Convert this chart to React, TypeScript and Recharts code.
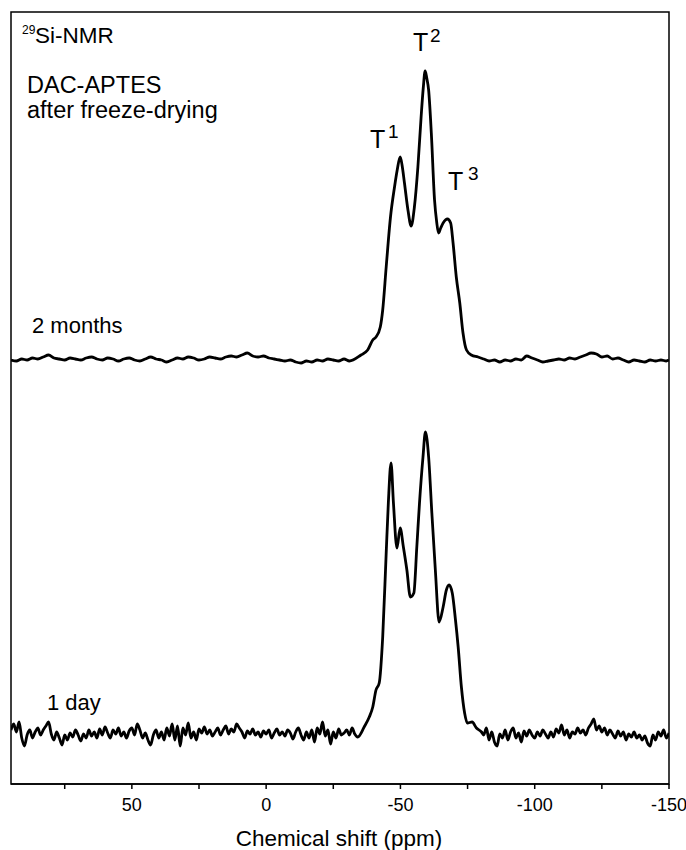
import React from 'react';
import { LineChart, Line, XAxis, YAxis, ReferenceArea } from 'recharts';

const FONT = '"Liberation Sans", Arial, Helvetica, sans-serif';

// x-axis ticks (ppm)
const xDomain = [-150, 95];
const xTicks = [75, 50, 25, 0, -25, -50, -75, -100, -125, -150];
const labeledTicks = [50, 0, -50, -100, -150];
const yDomain = [6, 778];

// ---- 2 months trace ----
const topShift = [
  95, 93, 91, 89, 87, 85, 83, 81, 79, 77, 75, 73, 71, 69, 67, 65, 63, 61, 59, 57,
  55, 53, 51, 49, 47, 45, 43, 41, 39, 37, 35, 33, 31, 29, 27, 25, 23, 21, 19, 17,
  15, 13, 11, 9, 7, 5, 3, 1, -1, -3, -5, -7, -9, -11, -13, -15, -17, -19, -21, -23,
  -25, -27, -29, -31,
  -35.3, -37.8, -39.7, -40.9, -42.5, -43.4, -44.7, -46.3, -47.8, -48.8, -49.9, -50.6,
  -51.5, -52.8, -54.0, -55.2, -56.5, -57.7, -58.5, -59.2, -59.8, -60.5, -61.5, -62.7,
  -63.5, -64.2, -65.0, -65.9, -67.5, -68.7, -69.6, -70.8, -72.1, -73.3, -74.6, -76.4,
  -78.9,
  -81, -83, -85, -87, -89, -91, -93, -95, -97, -99, -101, -103, -105, -107, -109, -111,
  -113, -115, -117, -119, -121, -123, -125, -127, -129, -131, -133, -135, -137, -139,
  -141, -143, -145, -147, -149, -150,
];
const topIntensity = [
  430, 429, 431, 430, 432, 431, 433, 435, 432, 431, 430, 432, 431, 430, 432, 433, 431, 430, 432, 431,
  429, 431, 432, 430, 429, 431, 433, 431, 430, 428, 430, 432, 431, 433, 432, 430, 431, 433, 432, 431,
  433, 434, 433, 435, 437, 434, 433, 434, 432, 431, 430, 429, 430, 428, 427, 429, 428, 430, 429, 431,
  430, 429, 431, 429,
  435, 440, 450, 453, 463, 480, 523, 573, 603, 620, 633, 625,
  607, 580, 564, 583, 623, 673, 702, 719, 712, 700, 657, 590,
  568, 557, 562, 567, 571, 567, 547, 513, 487, 457, 440, 435,
  433,
  431, 429, 430, 428, 430, 429, 431, 430, 434, 432, 430, 428, 429, 430, 431, 430,
  432, 431, 433, 435, 437, 436, 433, 434, 431, 432, 430, 428, 430, 429,
  428, 430, 429, 430, 429, 430,
];

// ---- 1 day trace ----
const bottomShift = [
  95, 94, 93, 92, 91, 90, 89, 88, 87, 86, 85, 84, 83, 82, 81, 80, 79, 78, 77, 76,
  75, 74, 73, 72, 71, 70, 69, 68, 67, 66, 65, 64, 63, 62, 61, 60, 59, 58, 57, 56,
  55, 54, 53, 52, 51, 50, 49, 48, 47, 46, 45, 44, 43, 42, 41, 40, 39, 38, 37, 36,
  35, 34, 33, 32, 31, 30, 29, 28, 27, 26, 25, 24, 23, 22, 21, 20, 19, 18, 17, 16,
  15, 14, 13, 12, 11, 10, 9, 8, 7, 6, 5, 4, 3, 2, 1, 0, -1, -2, -3, -4,
  -5, -6, -7, -8, -9, -10, -11, -12, -13, -14, -15, -16, -17, -18, -19, -20, -21, -22, -23, -24,
  -25, -26, -27, -28, -29, -30, -31, -32, -33,
  -34.1, -36.5, -38.4, -39.7, -40.9, -42.1, -43.4, -44.7, -45.5, -46.5, -47.4, -48.7,
  -49.9, -51.1, -52.4, -53.7, -55.0, -56.1, -57.1, -58.4, -59.3, -60.5, -61.7, -63.0,
  -64.4, -65.9, -67.1, -68.1, -69.3, -70.5, -71.5, -72.7, -73.9, -74.9, -76.7, -78.3,
  -80.2,
  -81, -82, -83, -84, -85, -86, -87, -88, -89, -90, -91, -92, -93, -94, -95, -96, -97, -98, -99, -100,
  -101, -102, -103, -104, -105, -106, -107, -108, -109, -110, -111, -112, -113, -114, -115, -116, -117, -118, -119, -120,
  -121, -122, -123, -124, -125, -126, -127, -128, -129, -130, -131, -132, -133, -134, -135, -136, -137, -138, -139, -140,
  -141, -142, -143, -144, -145, -146, -147, -148, -149, -150,
];
const bottomIntensity = [
  60, 66, 58, 68, 52, 44, 55, 60, 52, 58, 62, 55, 60, 64, 68, 56, 50, 58, 52, 45,
  55, 50, 57, 53, 60, 55, 49, 56, 52, 60, 54, 58, 52, 61, 55, 63, 57, 52, 60, 56,
  62, 54, 58, 52, 59, 62, 55, 66, 60, 52, 57, 50, 45, 55, 60, 52, 58, 50, 62, 54,
  66, 50, 64, 44, 62, 55, 67, 52, 58, 50, 61, 57, 63, 56, 60, 54, 58, 62, 55, 60,
  64, 56, 61, 58, 66, 62, 58, 52, 59, 56, 61, 55, 58, 53, 59, 56, 60, 52, 57, 61,
  55, 58, 54, 60, 57, 51, 58, 62, 55, 50, 58, 52, 60, 48, 62, 56, 68, 54, 60, 46,
  58, 52, 61, 55, 57, 60, 55, 62, 56,
  53, 63, 73, 83, 100, 107, 153, 237, 287, 327, 287, 242,
  262, 243, 220, 193, 197, 243, 287, 333, 358, 333, 277, 220,
  168, 183, 200, 205, 197, 170, 143, 103, 77, 67, 68, 62,
  58,
  55, 62, 50, 58, 48, 44, 56, 52, 60, 50, 58, 62, 52, 57, 48, 59, 54, 60, 55, 52,
  58, 54, 60, 56, 52, 58, 53, 61, 57, 65, 55, 60, 52, 58, 56, 62, 57, 60, 55, 62,
  66, 71, 60, 64, 58, 62, 55, 60, 56, 52, 59, 54, 58, 50, 56, 53, 58, 52, 55, 50,
  54, 47, 44, 55, 50, 58, 54, 60, 52, 57,
];

const topData = topShift.map((s, i) => ({ shift: s, intensity: topIntensity[i] }));
const bottomData = bottomShift.map((s, i) => ({ shift: s, intensity: bottomIntensity[i] }));

const Tick = (props: any) => {
  const { x, y, payload } = props;
  if (!labeledTicks.includes(payload.value)) return <g />;
  return (
    <text x={x} y={y} dy="0.71em" textAnchor="middle" fontSize={18} fontFamily={FONT} fill="#000">
      {String(payload.value)}
    </text>
  );
};

const axisStroke = { stroke: '#000', strokeWidth: 1.5 };

export default function App() {
  return (
    <div style={{ position: 'absolute', left: 0, top: 0, width: 686, height: 850, background: '#fff' }}>
      <LineChart width={686} height={850} margin={{ top: 12, right: 17, bottom: 0, left: 11 }}>
        <XAxis
          xAxisId="b"
          dataKey="shift"
          type="number"
          domain={xDomain}
          reversed
          allowDataOverflow
          ticks={xTicks}
          tick={<Tick />}
          tickSize={5}
          tickMargin={9}
          height={66}
          axisLine={axisStroke}
          tickLine={axisStroke}
        />
        <YAxis yAxisId="l" type="number" domain={yDomain} allowDataOverflow hide width={0} />
        <ReferenceArea
          xAxisId="b"
          yAxisId="l"
          x1={xDomain[1]}
          x2={xDomain[0]}
          y1={yDomain[0]}
          y2={yDomain[1]}
          fill="none"
          fillOpacity={0}
          stroke="#000"
          strokeWidth={1.5}
          ifOverflow="visible"
        />
        <Line xAxisId="b" yAxisId="l" data={topData} dataKey="intensity" type="monotone" dot={false} stroke="#000" strokeWidth={2.8} isAnimationActive={false} />
        <Line xAxisId="b" yAxisId="l" data={bottomData} dataKey="intensity" type="monotone" dot={false} stroke="#000" strokeWidth={2.8} isAnimationActive={false} />
      </LineChart>
      <svg width={686} height={850} style={{ position: 'absolute', left: 0, top: 0, pointerEvents: 'none' }} fontFamily={FONT} fill="#000">
        <text x={22} y={34} fontSize={12}>29</text>
        <text x={35} y={43} fontSize={22.5}>Si-NMR</text>
        <text x={27} y={93} fontSize={23.5}>DAC-APTES</text>
        <text x={27} y={118} fontSize={23.5}>after freeze-drying</text>

        <text x={413} y={51} fontSize={25}>T</text>
        <text x={430} y={42} fontSize={19}>2</text>
        <text x={370} y={148} fontSize={25}>T</text>
        <text x={388} y={138} fontSize={19}>1</text>
        <text x={448} y={190} fontSize={25}>T</text>
        <text x={468} y={180} fontSize={19}>3</text>

        <text x={32} y={333} fontSize={22}>2 months</text>
        <text x={47} y={710} fontSize={22}>1 day</text>

        <text x={339} y={846} fontSize={22.5} textAnchor="middle">Chemical shift (ppm)</text>
      </svg>
    </div>
  );
}
